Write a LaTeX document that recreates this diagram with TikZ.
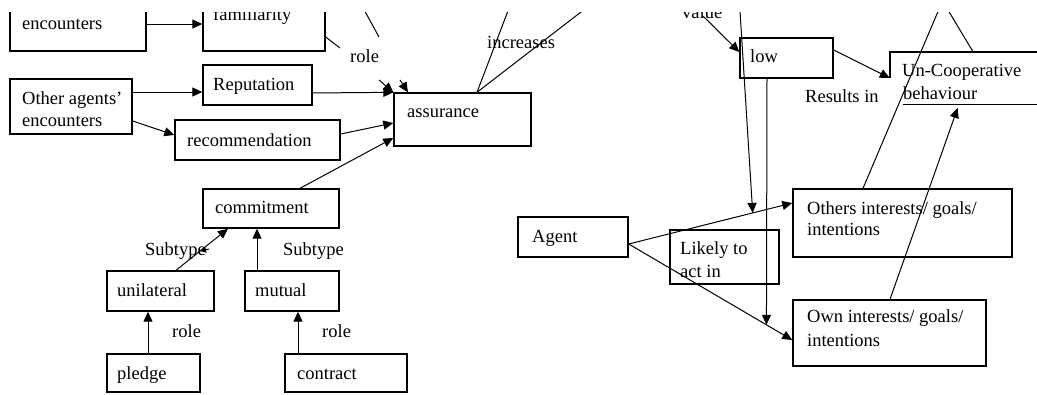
\documentclass[tikz,border=0pt]{standalone}
\usepackage{fontspec}
\setmainfont{Liberation Serif}
\usetikzlibrary{arrows.meta,calc,fit}
\begin{document}
\begin{tikzpicture}[x=1pt,y=-1pt,
  box/.style={draw,line width=1.4pt,inner sep=0pt},
  nobox/.style={inner sep=0pt},
  txt/.style={anchor=base west,inner sep=0pt,font=\fontsize{18.5}{22}\selectfont},
  ln/.style={line width=1pt},
  arr/.style={ln,-{Triangle[length=10pt,width=9pt]}},
  arrs/.style={ln,-{Triangle[length=6pt,width=6pt]}}]
\useasboundingbox (0,0) rectangle (1037,394);
\clip (0,12) rectangle (1037,394);
% boxes
\node[box,fit={(10,-3) (146,51)}] (enc) {};
\node[box,fit={(203,-3) (325,51)}] (fam) {};
\node[box,fit={(10,79) (132,134)}] (other) {};
\node[box,fit={(203,65) (312,105)}] (rep) {};
\node[box,fit={(175,120) (340,160)}] (rec) {};
\node[box,fit={(394,93) (531,146)}] (ass) {};
\node[box,fit={(203,189) (339,228)}] (com) {};
\node[box,fit={(107,271) (214,311)}] (unil) {};
\node[box,fit={(245,271) (339,311)}] (mut) {};
\node[box,fit={(107,354) (200,392)}] (pledge) {};
\node[box,fit={(285,354) (407,392)}] (contr) {};
\node[box,fit={(740,38) (833,78)}] (low) {};
\node[nobox,fit={(890,52) (1060,104)}] (unc) {};
\draw[line width=1.4pt] (unc.west) -- (unc.north west) -- (unc.north east);
\draw[line width=1.4pt] ($(unc.south west)+(13,0)$) -- (unc.south east);
\node[box,fit={(518,217) (628,257)}] (agent) {};
\node[box,fit={(670,230) (779,284)}] (likely) {};
\node[box,fit={(793,189) (1012,257)}] (others) {};
\node[box,fit={(793,300) (986,366)}] (own) {};
% texts
\node[txt] (t1) at (22,29) {encounters};
\node[txt] (t2) at (213,20) {familiarity};
\node[txt] (t3) at (22,104) {Other agents’};
\node[txt] (t4) at (22,126) {encounters};
\node[txt] (t5) at (213,90) {Reputation};
\node[txt] (t6) at (187,146) {recommendation};
\node[txt] (t7) at (407,117) {assurance};
\node[txt] (t8) at (350,62) {role};
\node[txt] (t9) at (487,48) {increases};
\node[txt] (t10) at (215,213) {commitment};
\node[txt] (t11) at (145,255) {Subtype};
\node[txt] (t12) at (283,255) {Subtype};
\node[txt] (t13) at (117,296) {unilateral};
\node[txt] (t14) at (255,296) {mutual};
\node[txt] (t15) at (172,337) {role};
\node[txt] (t16) at (322,337) {role};
\node[txt] (t17) at (117,379) {pledge};
\node[txt] (t18) at (297,379) {contract};
\node[txt] (t19) at (682,18) {value};
\node[txt] (t20) at (750,62) {low};
\node[txt] (t21) at (902,76) {Un-Cooperative};
\node[txt] (t22) at (903,99) {behaviour};
\node[txt] (t23) at (805,102) {Results in};
\node[txt] (t24) at (532,242) {Agent};
\node[txt] (t25) at (680,254) {Likely to};
\node[txt] (t26) at (680,277) {act in};
\node[txt] (t27) at (807,214) {Others interests/ goals/};
\node[txt] (t28) at (807,235) {intentions};
\node[txt] (t29) at (807,322) {Own interests/ goals/};
\node[txt] (t30) at (807,346) {intentions};
% free ends
\coordinate (r1) at (340,48);
\coordinate (r2) at (379,80);
\coordinate (s1) at (356,-5);
\coordinate (s2) at (379,37);
\coordinate (s3) at (400,80);
\coordinate (i1) at (514,-5);
\coordinate (i2) at (603,-5);
\coordinate (sa1) at (209,249);
\coordinate (sa2) at (200,251);
\coordinate (v1) at (703,16);
\coordinate (l1) at (739,-5);
\coordinate (o1) at (945,-5);
\coordinate (u1) at (939,-5);
% left connectors
\draw[arr] (enc.east |- 0,24) -- (fam.west |- 0,24);
\draw[ln] (fam.east |- 0,37) -- (r1);
\draw[arr] (r2) -- (ass.north west);
\draw[ln] (s1) -- (s2);
\draw[arr] (s3) -- (ass.north -| 408,0);
\draw[arr] (other.east |- 0,92) -- (rep.west |- 0,92);
\draw[arr] (rep.east |- 0,93) -- (ass.north west);
\draw[arr] (other.east |- 0,121) -- (rec.west |- 0,135);
\draw[arr] (rec.east |- 0,134) -- (ass.west |- 0,123);
\draw[arr] (com.north -| 300,0) -- (ass.west |- 0,138);
\draw[ln] (ass.north -| 477,0) -- (i1);
\draw[ln] (ass.north -| 477,0) -- (i2);
\draw[arr] (unil.north -| 176,0) -- (com.south -| 228,0);
\draw[arrs] (sa1) -- (sa2);
\draw[arr] (mut.north -| 257,0) -- (com.south -| 257,0);
\draw[arr] (pledge.north -| 148,0) -- (unil.south -| 148,0);
\draw[arr] (contr.north -| 298,0) -- (mut.south -| 298,0);
% right connectors
\draw[arr] (v1) -- (low.west |- 0,52);
\draw[arr] (agent.east |- 0,244) -- coordinate[pos=0.758] (m1) (others.west |- 0,203);
\draw[arr] (agent.east |- 0,244) -- coordinate[pos=0.842] (m2) (own.west |- 0,340);
\draw[arr] (l1) -- (m1);
\draw[arr] (low.south -| 767,0) -- (m2);
\draw[arr] (low.east |- 0,50) -- (unc.west |- 0,78);
\draw[ln] (others.north -| 863,0) -- (o1);
\draw[ln] (u1) -- (unc.north -| 973,0);
\draw[arr,shorten >=4pt] (own.north -| 890,0) -- (unc.south -| 959,0);
\end{tikzpicture}
\end{document}
